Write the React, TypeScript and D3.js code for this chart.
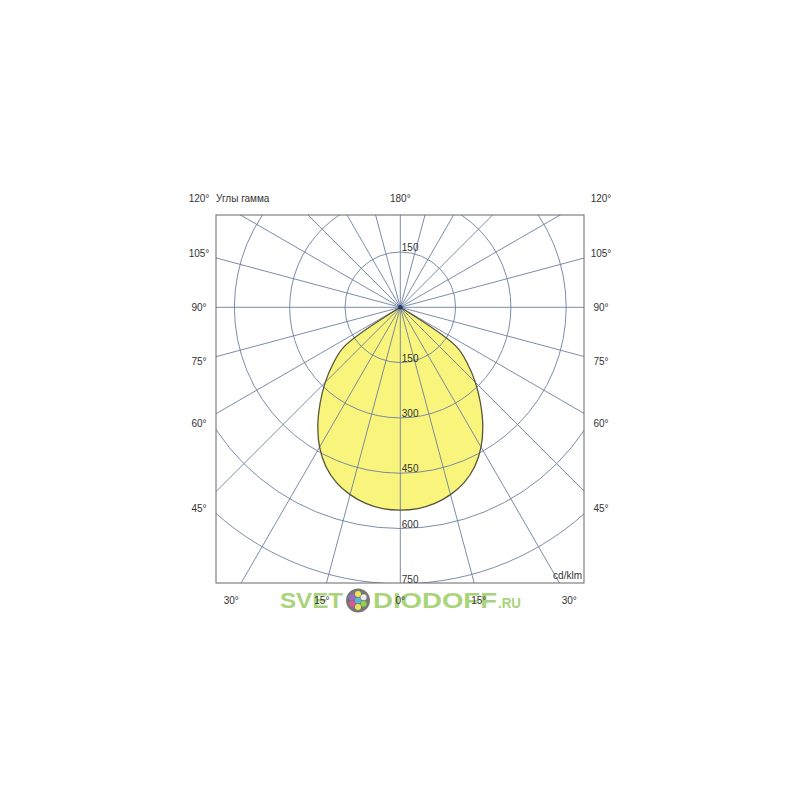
import React from "react";
import * as d3 from "d3";

// ---- data ----
const GAMMA = [0, 5, 10, 15, 20, 25, 30, 35, 40, 45, 50, 55, 60];
const INTENSITY = [550, 548, 540, 526, 506, 477, 438, 390, 338, 288, 238, 185, 0];
const RING_VALUES = [150, 300, 450, 600, 750];
const SPOKE_ANGLES = d3.range(0, 360, 15);
const SIDE_LABELS = [45, 60, 75, 90, 105];
const BOTTOM_LABELS = [0, 15, 30];
const TITLE = "Углы гамма";
const UNIT = "cd/klm";

const FONT = "'Liberation Sans', Arial, sans-serif";
const TEXT_COLOR = "#333";
const GRID = "#6d7fa0";

export default function App() {
  const box = { left: 216, top: 215, right: 584, bottom: 583 };
  const cx = 400.3;
  const cy = 307.3;
  const r = d3.scaleLinear().domain([0, 750]).range([0, 276.5]);

  // full symmetric curve from left (-60) through nadir to right (+60)
  const pts: [number, number][] = [];
  for (let i = GAMMA.length - 1; i >= 0; i--) pts.push([-GAMMA[i], INTENSITY[i]]);
  for (let i = 1; i < GAMMA.length; i++) pts.push([GAMMA[i], INTENSITY[i]]);

  const line = d3
    .lineRadial<[number, number]>()
    .angle((d) => Math.PI - (d[0] * Math.PI) / 180)
    .radius((d) => r(d[1]))
    .curve(d3.curveCatmullRom.alpha(0.5));
  const curvePath = (line(pts) || "") + "Z";

  const spokeLen = 500;
  const labelLeftX = 199;
  const labelRightX = 601;
  const labelTopY = 198;
  const labelBottomY = 600;

  const txt = {
    fontFamily: FONT,
    fontSize: 10,
    fill: TEXT_COLOR,
  } as const;

  const dotColors = ["#f2e44a", "#e9e9e9", "#8fd14f", "#e9e45a", "#e0559a", "#9b6ad1"];

  return (
    <svg
      width={800}
      height={800}
      style={{ position: "absolute", left: 0, top: 0, background: "#fff" }}
    >
      <defs>
        <clipPath id="boxClip">
          <rect x={box.left} y={box.top} width={box.right - box.left} height={box.bottom - box.top} />
        </clipPath>
      </defs>
      <rect x={0} y={0} width={800} height={800} fill="#fff" />

      {/* fill of the light distribution */}
      <path d={curvePath} transform={`translate(${cx},${cy})`} fill="#f8f47c" stroke="none" />

      {/* grid */}
      <g clipPath="url(#boxClip)" stroke={GRID} strokeWidth={0.9} fill="none">
        {RING_VALUES.map((v) => (
          <circle key={v} cx={cx} cy={cy} r={r(v)} />
        ))}
        {SPOKE_ANGLES.map((a) => {
          const rad = (a * Math.PI) / 180;
          return (
            <line
              key={a}
              x1={cx}
              y1={cy}
              x2={cx + spokeLen * Math.sin(rad)}
              y2={cy + spokeLen * Math.cos(rad)}
            />
          );
        })}
      </g>

      {/* outline */}
      <path
        d={curvePath}
        transform={`translate(${cx},${cy})`}
        fill="none"
        stroke="#55553a"
        strokeWidth={1.3}
      />
      <circle cx={cx} cy={cy} r={2.2} fill="#23386e" />

      {/* frame */}
      <rect
        x={box.left}
        y={box.top}
        width={box.right - box.left}
        height={box.bottom - box.top}
        fill="none"
        stroke="#666"
        strokeWidth={1}
      />

      {/* watermark */}
      <g fontFamily={FONT} fontWeight="bold" fill="#a9d47a">
        <text x={280} y={608} fontSize={22} textLength={63} lengthAdjust="spacingAndGlyphs">
          SVET
        </text>
        <circle cx={358} cy={600.5} r={12} fill="#777" />
        {dotColors.map((c, i) => {
          const ang = (i * 60 * Math.PI) / 180;
          return (
            <circle key={i} cx={358 + 6.5 * Math.sin(ang)} cy={600.5 - 6.5 * Math.cos(ang)} r={3} fill={c} />
          );
        })}
        <circle cx={358} cy={600.5} r={3} fill="#52b8d8" />
        <text x={373} y={608} fontSize={22} textLength={124} lengthAdjust="spacingAndGlyphs">
          DIODOFF
        </text>
        <text x={498} y={608} fontSize={14} textLength={23} lengthAdjust="spacingAndGlyphs">
          .RU
        </text>
      </g>

      {/* ring labels */}
      {RING_VALUES.map((v) => (
        <text key={"rl" + v} x={cx + 1.5} y={cy + r(v) - 1} {...txt}>
          {v}
        </text>
      ))}
      <text x={cx + 1.5} y={cy - r(150) - 1} {...txt}>
        {RING_VALUES[0]}
      </text>

      {/* angle labels */}
      <g {...txt} textAnchor="middle" dominantBaseline="central">
        {SIDE_LABELS.map((g) => {
          const rad = (g * Math.PI) / 180;
          const dx = labelRightX - cx;
          const y = cy + (dx * Math.cos(rad)) / Math.sin(rad);
          return (
            <React.Fragment key={"s" + g}>
              <text x={labelLeftX} y={y}>{`${g}°`}</text>
              <text x={labelRightX} y={y}>{`${g}°`}</text>
            </React.Fragment>
          );
        })}
        {BOTTOM_LABELS.map((g) => {
          const rad = (g * Math.PI) / 180;
          const dy = labelBottomY - cy;
          const off = dy * Math.tan(rad);
          return g === 0 ? (
            <text key={"b" + g} x={cx} y={labelBottomY}>{`${g}°`}</text>
          ) : (
            <React.Fragment key={"b" + g}>
              <text x={cx - off} y={labelBottomY}>{`${g}°`}</text>
              <text x={cx + off} y={labelBottomY}>{`${g}°`}</text>
            </React.Fragment>
          );
        })}
        <text x={labelLeftX} y={labelTopY}>120°</text>
        <text x={labelRightX} y={labelTopY}>120°</text>
        <text x={cx} y={labelTopY}>180°</text>
      </g>
      <text x={box.left} y={labelTopY} dominantBaseline="central" {...txt}>
        {TITLE}
      </text>
      <text x={box.right - 2} y={575} dominantBaseline="central" textAnchor="end" {...txt}>
        {UNIT}
      </text>
    </svg>
  );
}
